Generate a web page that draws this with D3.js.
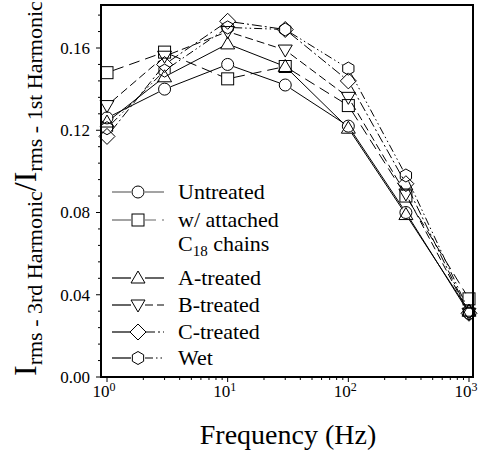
<!DOCTYPE html>
<html><head><meta charset="utf-8">
<script src="https://cdn.jsdelivr.net/npm/d3@7"></script>
<style>body{margin:0;background:#fff}svg{display:block}</style>
</head><body><svg id="c" width="480" height="459" font-family="'Liberation Serif', 'Times New Roman', Times, serif"></svg>
<script>
const freqs = [1, 3, 10, 30, 100, 300, 1000];
const untreated = [0.126, 0.140, 0.152, 0.142, 0.122, 0.080, 0.031];
const c18Chains = [0.148, 0.158, 0.145, 0.151, 0.132, 0.088, 0.038];
const aTreated = [0.124, 0.146, 0.162, 0.151, 0.121, 0.079, 0.032];
const bTreated = [0.132, 0.156, 0.168, 0.159, 0.136, 0.089, 0.031];
const cTreated = [0.117, 0.152, 0.173, 0.169, 0.144, 0.094, 0.031];
const wet = [0.121, 0.149, 0.170, 0.169, 0.150, 0.098, 0.032];
const yTicks = [0.00, 0.04, 0.08, 0.12, 0.16];
const xTicks = [1, 10, 100, 1000];
const seriesNames = ["Untreated", "w/ attached", "A-treated", "B-treated", "C-treated", "Wet"];

const FONT = "'Liberation Serif', 'Times New Roman', Times, serif";
const series = [
  {name: seriesNames[0], vals: untreated, sym: "circle", dash: null, legendColor: "#666"},
  {name: seriesNames[1], vals: c18Chains, sym: "square", dash: "11,6", legendColor: "#666"},
  {name: seriesNames[2], vals: aTreated, sym: "tri", dash: null, legendColor: "#000"},
  {name: seriesNames[3], vals: bTreated, sym: "trid", dash: "8,4", legendColor: "#000"},
  {name: seriesNames[4], vals: cTreated, sym: "diamond", dash: "10,3,2,3", legendColor: "#000"},
  {name: seriesNames[5], vals: wet, sym: "hex", dash: "8,3,1.5,3,1.5,3", legendColor: "#000"}
];

const svg = d3.select("#c");
const L = 101, R = 473, T = 5, B = 377;
const x = d3.scaleLog().domain([1, 1000]).range([107, 469]);
const y = d3.scaleLinear().domain([0, 0.16]).range([377, 48]);

function txt(g) { return g.append("text").attr("font-family", FONT).attr("fill", "#000"); }

function sym(g, type, cx, cy, fill) {
  let el;
  if (type === "circle") el = g.append("circle").attr("cx", cx).attr("cy", cy).attr("r", 6);
  else if (type === "square") el = g.append("rect").attr("x", cx - 6).attr("y", cy - 6).attr("width", 12).attr("height", 12);
  else {
    let pts;
    if (type === "tri") pts = [[0, -7], [7, 5], [-7, 5]];
    else if (type === "trid") pts = [[0, 7], [7, -5], [-7, -5]];
    else if (type === "diamond") pts = [[0, -8], [8, 0], [0, 8], [-8, 0]];
    else pts = d3.range(6).map(i => { const a = Math.PI / 6 + i * Math.PI / 3; return [6.5 * Math.cos(a), 6.5 * Math.sin(a)]; });
    el = g.append("polygon").attr("points", pts.map(p => [cx + p[0], cy + p[1]].join(",")).join(" "));
  }
  el.attr("fill", fill).attr("stroke", "#000").attr("stroke-width", 1);
}

// data lines, clipped at marker edges
const gp = svg.append("g");
series.forEach(s => {
  const pts = freqs.map((f, i) => [x(f), y(s.vals[i])]);
  for (let i = 0; i < pts.length - 1; i++) {
    const [x1, y1] = pts[i], [x2, y2] = pts[i + 1];
    const dx = x2 - x1, dy = y2 - y1, len = Math.hypot(dx, dy), r = 6.5;
    if (len <= 2 * r) continue;
    const ux = dx / len, uy = dy / len;
    gp.append("line").attr("x1", x1 + ux * r).attr("y1", y1 + uy * r)
      .attr("x2", x2 - ux * r).attr("y2", y2 - uy * r)
      .attr("stroke", "#000").attr("stroke-width", 1)
      .attr("stroke-dasharray", s.dash);
  }
  pts.forEach(p => sym(gp, s.sym, p[0], p[1], "none"));
});

// frame
svg.append("rect").attr("x", L).attr("y", T).attr("width", R - L).attr("height", B - T)
  .attr("fill", "none").attr("stroke", "#000").attr("stroke-width", 2);

// y ticks
const gy = svg.append("g");
d3.range(0, 0.1801, 0.008).forEach(v => {
  const major = yTicks.some(t => Math.abs(t - v) < 1e-6);
  if (y(v) < T) return;
  gy.append("line").attr("x1", L).attr("x2", L - (major ? 5 : 3)).attr("y1", y(v)).attr("y2", y(v))
    .attr("stroke", "#000").attr("stroke-width", 1);
});
yTicks.forEach(v => {
  txt(gy).attr("x", 90).attr("y", y(v)).attr("dy", "0.35em").attr("text-anchor", "end")
    .attr("font-size", 17).text(d3.format(".2f")(v));
});

// x ticks
const gx = svg.append("g");
[1, 10, 100].forEach(d => {
  for (let k = 1; k <= 9; k++) {
    const v = d * k;
    gx.append("line").attr("x1", x(v)).attr("x2", x(v)).attr("y1", B).attr("y2", B + (k === 1 ? 5 : 3))
      .attr("stroke", "#000").attr("stroke-width", 1);
  }
});
gx.append("line").attr("x1", x(1000)).attr("x2", x(1000)).attr("y1", B).attr("y2", B + 5).attr("stroke", "#000");
xTicks.forEach(v => {
  const t = txt(gx).attr("x", x(v) - 3).attr("y", 397).attr("text-anchor", "middle").attr("font-size", 17);
  t.append("tspan").text("10");
  t.append("tspan").attr("dy", -6).attr("font-size", 12).text(String(Math.round(Math.log10(v))));
});

// axis titles
txt(svg).attr("x", 288).attr("y", 444).attr("text-anchor", "middle").attr("font-size", 28).text("Frequency (Hz)");
const yt = txt(svg).attr("transform", "translate(36,376) rotate(-90)").attr("x", 0).attr("y", 0).attr("font-size", 32);
yt.append("tspan").text("I");
yt.append("tspan").attr("dy", 6).attr("font-size", 22).text("rms - 3rd Harmonic");
yt.append("tspan").attr("dy", -6).text("/");
yt.append("tspan").text("I");
yt.append("tspan").attr("dy", 6).attr("font-size", 22).text("rms - 1st Harmonic");

// legend
const gl = svg.append("g");
const legRows = [
  {s: series[0], ly: 192}, {s: series[1], ly: 220}, {s: series[2], ly: 278},
  {s: series[3], ly: 305}, {s: series[4], ly: 332}, {s: series[5], ly: 358}
];
legRows.forEach(({s, ly}) => {
  gl.append("line").attr("x1", 112).attr("x2", 131).attr("y1", ly).attr("y2", ly).attr("stroke", s.legendColor).attr("stroke-width", 1.2);
  gl.append("line").attr("x1", 145).attr("x2", 164).attr("y1", ly).attr("y2", ly).attr("stroke", s.legendColor).attr("stroke-width", 1.2)
    .attr("stroke-dasharray", s.dash);
  sym(gl, s.sym, 138, ly, "none");
  txt(gl).attr("x", 178).attr("y", ly + 7).attr("font-size", 22).text(s.name);
});
const c18t = txt(gl).attr("x", 178).attr("y", 251).attr("font-size", 22);
c18t.append("tspan").text("C");
c18t.append("tspan").attr("dy", 5).attr("font-size", 15).text("18");
c18t.append("tspan").attr("dy", -5).text(" chains");
</script></body></html>
